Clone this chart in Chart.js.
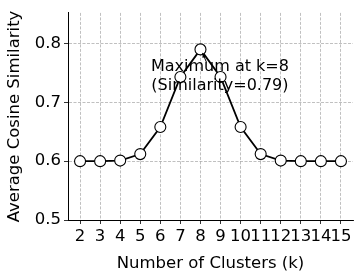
<!DOCTYPE html>
<html>
<head>
<meta charset="utf-8">
<script src="https://cdn.jsdelivr.net/npm/chart.js@4"></script>
<style>
  html, body { margin: 0; padding: 0; background: #fff; }
  #wrap { width: 362px; height: 272px; }
</style>
</head>
<body>
<div id="wrap"><canvas id="chart" width="362" height="272"></canvas></div>
<script>
// datos
const clusters = [2, 3, 4, 5, 6, 7, 8, 9, 10, 11, 12, 13, 14, 15];
const similarity = [0.600, 0.600, 0.601, 0.612, 0.658, 0.743, 0.790, 0.743, 0.658, 0.612, 0.601, 0.600, 0.600, 0.600];
const yTicks = [0.5, 0.6, 0.7, 0.8];
const bestK = 8;
const bestSim = 0.79;

const FONT = "'DejaVu Sans', sans-serif";
const FS = 16.5;
const gridColor = "rgba(150,150,150,0.75)";

// anotacion con flecha (igual que annotate de matplotlib)
const annotationPlugin = {
  id: "maxAnnotation",
  afterDatasetsDraw(chart) {
    const { ctx, scales } = chart;
    const x = scales.x, y = scales.y;
    ctx.save();
    // flecha
    const x0 = x.getPixelForValue(bestK + 0.3), y0 = y.getPixelForValue(bestSim - 0.022);
    const x1 = x.getPixelForValue(bestK + 0.1), y1 = y.getPixelForValue(bestSim - 0.006);
    ctx.strokeStyle = "#000";
    ctx.fillStyle = "#000";
    ctx.lineWidth = 1;
    ctx.beginPath();
    ctx.moveTo(x0, y0);
    ctx.lineTo(x1, y1);
    ctx.stroke();
    const ang = Math.atan2(y1 - y0, x1 - x0);
    ctx.beginPath();
    ctx.moveTo(x1, y1);
    ctx.lineTo(x1 - 5 * Math.cos(ang - 0.4), y1 - 5 * Math.sin(ang - 0.4));
    ctx.lineTo(x1 - 5 * Math.cos(ang + 0.4), y1 - 5 * Math.sin(ang + 0.4));
    ctx.closePath();
    ctx.fill();
    // texto
    ctx.font = "16px " + FONT;
    ctx.textAlign = "center";
    ctx.textBaseline = "middle";
    const tx = x.getPixelForValue(bestK + 0.97);
    const ty = y.getPixelForValue(bestSim - 0.029);
    ctx.fillText("Maximum at k=" + bestK, tx, ty);
    ctx.fillText("(Similarity=" + bestSim.toFixed(2) + ")", tx, ty + 19);
    ctx.restore();
  },
};

new Chart(document.getElementById("chart").getContext("2d"), {
  type: "line",
  data: {
    datasets: [
      {
        label: "Average Cosine Similarity",
        data: clusters.map((k, i) => ({ x: k, y: similarity[i] })),
        borderColor: "#000",
        borderWidth: 1.8,
        pointRadius: 5.5,
        pointBackgroundColor: "#fff",
        pointBorderColor: "#000",
        pointBorderWidth: 1.1,
        tension: 0,
      },
    ],
  },
  options: {
    responsive: false,
    animation: false,
    layout: { padding: { top: 8, right: 9, left: 0, bottom: 0 } },
    plugins: { legend: { display: false }, tooltip: { enabled: false } },
    scales: {
      x: {
        type: "linear",
        min: 1.4,
        max: 15.6,
        afterBuildTicks: (s) => { s.ticks = clusters.map((v) => ({ value: v })); },
        afterFit: (s) => { s.height = 52; },
        ticks: { color: "#000", font: { family: FONT, size: FS }, padding: 3, maxRotation: 0, autoSkip: false },
        grid: { color: gridColor, lineWidth: 0.8, tickLength: 4, tickColor: "#000", tickBorderDash: [] },
        border: { color: "#000", width: 1, dash: [3, 1.5] },
        title: { display: true, text: "Number of Clusters (k)", color: "#000", font: { family: FONT, size: FS }, padding: { top: 0, bottom: -2 } },
      },
      y: {
        min: 0.5,
        max: 0.852,
        afterBuildTicks: (s) => { s.ticks = yTicks.map((v) => ({ value: v })); },
        afterFit: (s) => { s.width = 68; },
        ticks: { color: "#000", font: { family: FONT, size: FS }, padding: 3, callback: (v) => v.toFixed(1) },
        grid: { color: gridColor, lineWidth: 0.8, tickLength: 4, tickColor: "#000", tickBorderDash: [] },
        border: { color: "#000", width: 1, dash: [3, 1.5] },
        title: { display: true, text: "Average Cosine Similarity", color: "#000", font: { family: FONT, size: FS }, padding: { top: 5 } },
      },
    },
  },
  plugins: [annotationPlugin],
});
</script>
</body>
</html>
